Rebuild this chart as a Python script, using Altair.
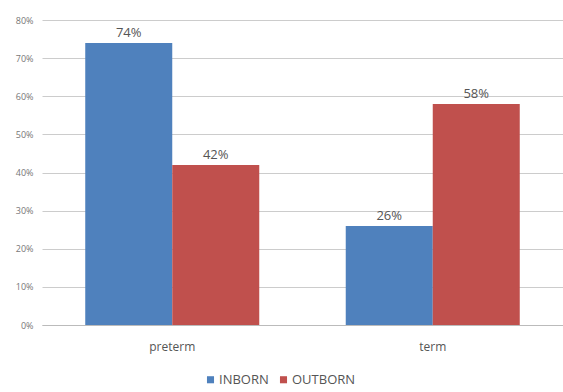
import altair as alt
import pandas as pd

categories = ["preterm", "preterm", "term", "term"]
groups = ["INBORN", "OUTBORN", "INBORN", "OUTBORN"]
values = [74, 42, 26, 58]

df = pd.DataFrame({"cat": categories, "grp": groups, "val": values})
df["label"] = df["val"].astype(str) + "%"

color = alt.Color(
    "grp:N",
    scale=alt.Scale(domain=["INBORN", "OUTBORN"], range=["#4F81BD", "#C0504D"]),
    legend=alt.Legend(
        title=None,
        orient="none",
        legendX=162,
        legendY=353,
        direction="horizontal",
        symbolType="square",
        symbolSize=50,
        symbolStrokeWidth=0,
        labelFontSize=13,
        labelColor="#555555",
        labelFont="Open Sans",
        columnPadding=8,
        symbolOffset=0,
        labelOffset=2,
    ),
)

x = alt.X(
    "cat:N",
    title=None,
    scale=alt.Scale(paddingInner=0.332, paddingOuter=0.166),
    axis=alt.Axis(
        labelAngle=0,
        ticks=False,
        labelPadding=16,
        labelFontSize=12,
        labelColor="#555555",
        labelFont="Open Sans",
        domainColor="#bbbbbb",
    ),
)

y = alt.Y(
    "val:Q",
    title=None,
    scale=alt.Scale(domain=[0, 80]),
    axis=alt.Axis(
        values=[0, 10, 20, 30, 40, 50, 60, 70, 80],
        labelExpr="datum.value + '%'",
        domain=False,
        ticks=False,
        labelPadding=9,
        labelFontSize=9,
        labelColor="#777777",
        labelFont="Open Sans",
        gridColor="#cccccc",
        gridWidth=1,
    ),
)

base = alt.Chart(df).encode(x=x, xOffset=alt.XOffset("grp:N"), y=y)

bars = base.mark_bar().encode(color=color)
text = base.mark_text(dy=-10, fontSize=13, color="#555555", font="Open Sans").encode(
    text="label:N"
)

chart = (
    alt.layer(bars, text)
    .properties(
        width=521,
        height=305,
        padding={"left": 42, "top": 20, "right": 0, "bottom": 67},
        autosize=alt.AutoSizeParams(type="none"),
    )
    .configure_view(stroke=None)
    .configure_scale(bandPaddingInner=0)
)

chart.save("out.html", embed_options={"renderer": "svg", "actions": False})
